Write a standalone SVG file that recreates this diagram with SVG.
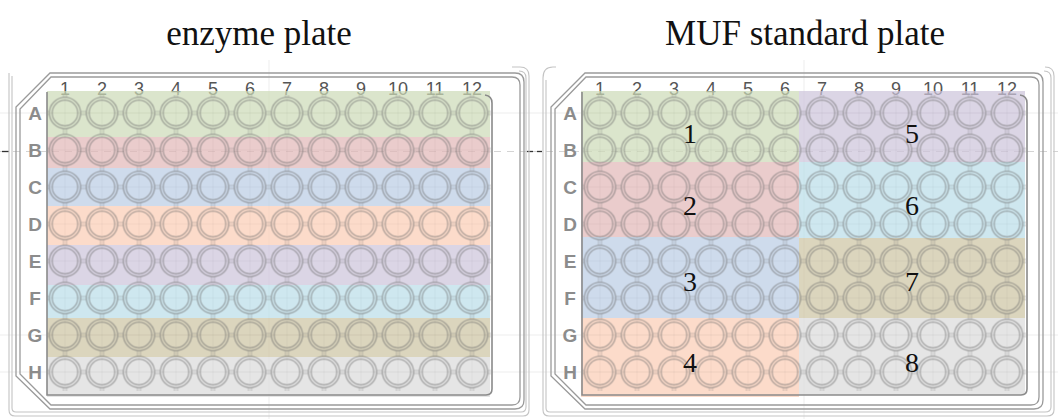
<svg xmlns="http://www.w3.org/2000/svg" xmlns:xlink="http://www.w3.org/1999/xlink" width="1058" height="419" viewBox="0 0 1058 419">
  <style>
    .title { font-family: "Liberation Serif", "Times New Roman", serif; font-size: 35px; fill: #111; }
    .blk { font-family: "Liberation Serif", "Times New Roman", serif; font-size: 28px; fill: #111; text-anchor: middle; }
    .col { font-family: "Liberation Sans", Arial, sans-serif; font-size: 18px; fill: #555; text-anchor: middle; }
    .row { font-family: "Liberation Sans", Arial, sans-serif; font-size: 19px; font-weight: bold; fill: #8c8c8c; text-anchor: middle; }
    .frame { fill: none; stroke: #9a9a9a; stroke-width: 1.3; }
    .frame2 { fill: none; stroke: #c4c4c4; stroke-width: 1.1; }
    .area { fill: none; stroke: #8a8a8a; stroke-width: 1.6; }
    .band { opacity: 0.7; }
    .faint { stroke: #000; stroke-opacity: 0.07; stroke-width: 1; }
  </style>
  <defs>
    <!-- one well of the 96-well grid: double ring, crosshair and linking ticks -->
    <pattern id="wells" patternUnits="userSpaceOnUse" x="46.5" y="94.5" width="37" height="37">
      <line x1="0" y1="18.5" x2="37" y2="18.5" stroke="#000" stroke-opacity="0.035"/>
      <line x1="18.5" y1="0" x2="18.5" y2="37" stroke="#000" stroke-opacity="0.035"/>
      <circle cx="18.5" cy="18.5" r="15.6" fill="none" stroke="#6a6a6a" stroke-opacity="0.5" stroke-width="1.4"/>
      <circle cx="18.5" cy="18.5" r="12.8" fill="none" stroke="#6a6a6a" stroke-opacity="0.5" stroke-width="1.3"/>
      <path d="M0 17 H3 M0 20 H3 M34 17 H37 M34 20 H37" stroke="#6f6f6f" stroke-opacity="0.35" stroke-width="1"/>
      <path d="M17 0 V3 M20 0 V3 M17 34 V37 M20 34 V37" stroke="#6f6f6f" stroke-opacity="0.35" stroke-width="1"/>
    </pattern>
    <!-- column and row labels shared by both plates -->
    <g id="plateLabels">
      <g class="col">
        <text x="65" y="95">1</text><text x="102" y="95">2</text><text x="139" y="95">3</text>
        <text x="176" y="95">4</text><text x="213" y="95">5</text><text x="250" y="95">6</text>
        <text x="287" y="95">7</text><text x="324" y="95">8</text><text x="361" y="95">9</text>
        <text x="398" y="95">10</text><text x="435" y="95">11</text><text x="472" y="95">12</text>
      </g>
      <g class="row">
        <text x="35" y="120">A</text><text x="35" y="157">B</text><text x="35" y="194">C</text>
        <text x="35" y="231">D</text><text x="35" y="268">E</text><text x="35" y="305">F</text>
        <text x="35" y="342">G</text><text x="35" y="379">H</text>
      </g>
    </g>
    <!-- well grid drawn above the colour bands -->
    <g id="wellGrid">
      <rect x="47" y="95" width="444" height="296" fill="url(#wells)"/>
      <path class="area" d="M47 92 V395 H486 Q492 395 492 389 V103 Q492 96 485 95"/>
    </g>
  </defs>

  <rect width="1058" height="419" fill="#fff"/>

  <!-- faint guide lines behind the plates -->
  <g id="guides">
    <line class="faint" x1="0" y1="113" x2="1058" y2="113"/>
    <line class="faint" x1="0" y1="335" x2="1058" y2="335"/>
    <line class="faint" x1="0" y1="372" x2="1058" y2="372"/>
    <line class="faint" x1="269" y1="60" x2="269" y2="419"/>
    <line class="faint" x1="804" y1="60" x2="804" y2="419"/>
    <line x1="0" y1="151.5" x2="1058" y2="151.5" stroke="#555" stroke-opacity="0.25" stroke-dasharray="7 6"/>
    <line x1="2" y1="151.5" x2="9" y2="151.5" stroke="#333" stroke-width="1.3"/>
    <line x1="527" y1="151.5" x2="533" y2="151.5" stroke="#333" stroke-width="1.3"/>
    <line x1="537" y1="151.5" x2="542" y2="151.5" stroke="#333" stroke-width="1.3"/>
  </g>

  <text class="title" x="259" y="45" text-anchor="middle">enzyme plate</text>
  <text class="title" x="805" y="45" text-anchor="middle">MUF standard plate</text>

  <!-- left plate: one colour per row -->
  <g id="enzyme-plate">
    <path class="frame2" d="M9 73 V410 Q9 416 15 416 H523 Q529 416 529 410 V76 Q529 67 520 67 H512"/>
    <path class="frame2" d="M12 76 V408 Q12 412 16 412 H521 Q526 412 526 407 V78 Q526 71 519 71"/>
    <path class="frame" d="M50 73 H515 Q524 73 524 82 V400 Q524 409 515 409 H50 L16 376 V107 Z"/>
    <path class="frame" d="M51 77 H512 Q520 77 520 85 V397 Q520 405 512 405 H51 L20 374 V109 Z"/>
    <use xlink:href="#plateLabels"/>
    <g class="band">
      <rect x="47" y="91" width="443" height="46" fill="#cddbb7"/>
      <rect x="47" y="137" width="443" height="31" fill="#e2b7b7"/>
      <rect x="47" y="168" width="443" height="38" fill="#bacde4"/>
      <rect x="47" y="206" width="443" height="39" fill="#fbcdb5"/>
      <rect x="47" y="245" width="443" height="40" fill="#cdc4db"/>
      <rect x="47" y="285" width="443" height="33" fill="#badee9"/>
      <rect x="47" y="318" width="443" height="39" fill="#cdc4a2"/>
      <rect x="47" y="357" width="443" height="40" fill="#dbdbdb"/>
    </g>
    <use xlink:href="#wellGrid"/>
  </g>

  <!-- right plate: eight blocks of 2 rows x 6 columns -->
  <g id="muf-plate">
    <path class="frame2" d="M543 78 V410 Q543 416 549 416 H1047 Q1054 416 1054 410 V76 Q1054 67 1045 67"/>
    <path class="frame2" d="M543 78 Q543 67 553 67 H556"/>
    <path class="frame2" d="M546 80 V408 Q546 412 550 412 H1045 Q1051 412 1051 407 V78 Q1051 71 1044 71"/>
    <path class="frame" d="M585 73 H1034 Q1043 73 1043 82 V400 Q1043 409 1034 409 H585 L551 376 V107 Z"/>
    <path class="frame" d="M586 77 H1031 Q1039 77 1039 85 V397 Q1039 405 1031 405 H586 L555 374 V109 Z"/>
    <g transform="translate(535,0)">
      <use xlink:href="#plateLabels"/>
    </g>
    <g class="band">
      <rect id="blk1" x="581" y="91" width="218" height="71" fill="#cddbb7"/>
      <rect id="blk2" x="581" y="162" width="218" height="75" fill="#e2b7b7"/>
      <rect id="blk3" x="581" y="237" width="218" height="81" fill="#bacde4"/>
      <rect id="blk4" x="581" y="318" width="218" height="79" fill="#fbcdb5"/>
      <rect id="blk5" x="799" y="91" width="226" height="71" fill="#cdc4db"/>
      <rect id="blk6" x="799" y="162" width="226" height="76" fill="#badee9"/>
      <rect id="blk7" x="799" y="238" width="226" height="80" fill="#cdc4a2"/>
      <rect id="blk8" x="799" y="318" width="226" height="77" fill="#dbdbdb"/>
    </g>
    <g transform="translate(535,0)">
      <use xlink:href="#wellGrid"/>
    </g>
    <g id="block-labels">
      <text class="blk" x="690" y="143">1</text>
      <text class="blk" x="690" y="215">2</text>
      <text class="blk" x="690" y="291">3</text>
      <text class="blk" x="690" y="372">4</text>
      <text class="blk" x="912" y="143">5</text>
      <text class="blk" x="912" y="215">6</text>
      <text class="blk" x="912" y="291">7</text>
      <text class="blk" x="912" y="372">8</text>
    </g>
  </g>
</svg>
